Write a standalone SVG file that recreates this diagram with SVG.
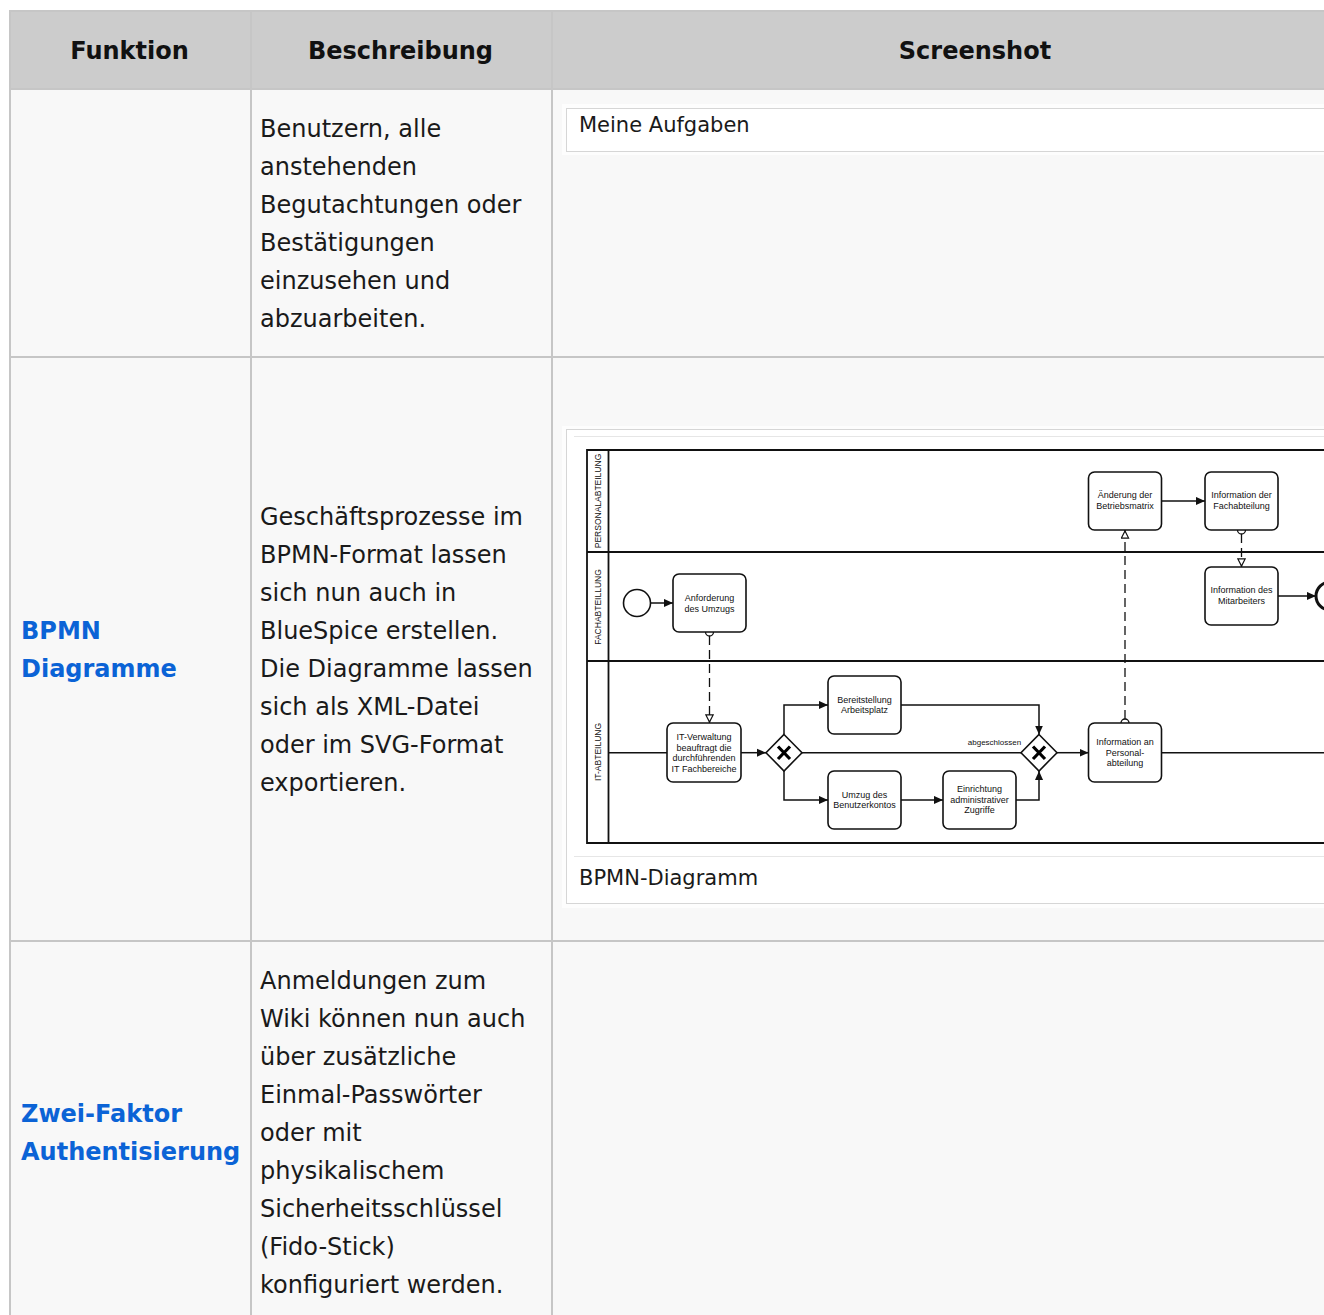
<svg xmlns="http://www.w3.org/2000/svg" width="1324" height="1315" viewBox="0 0 1324 1315">
<style>
.cell{fill:#f8f8f8}
.grid{stroke:#c6c6c6;stroke-width:2;fill:none}
.th{font-family:"DejaVu Sans",sans-serif;font-weight:bold;font-size:24px;fill:#111;text-anchor:middle}
.td{font-family:"DejaVu Sans",sans-serif;font-size:24px;fill:#1a1a1a}
.lnk{font-family:"DejaVu Sans",sans-serif;font-weight:bold;font-size:24px;fill:#0b63d6}
.cap{font-family:"DejaVu Sans",sans-serif;font-size:21px;fill:#1a1a1a}
.pool{stroke:#111;stroke-width:1.8;fill:none}
.lane{font-family:"Liberation Sans",Arial,sans-serif;font-size:8.5px;fill:#111;text-anchor:middle}
.task rect{fill:#fff;stroke:#111;stroke-width:1.6}
.task text,.lbl{font-family:"Liberation Sans",Arial,sans-serif;font-size:9px;fill:#111;text-anchor:middle}
.seq{stroke:#111;stroke-width:1.5;fill:none}
.msg{stroke:#111;stroke-width:1.3;fill:none;stroke-dasharray:9 5}
.gw polygon{fill:#fff;stroke:#111;stroke-width:1.6}
.gw path{stroke:#000;stroke-width:3.2;fill:none}
</style>
<defs>
<marker id="arr" viewBox="0 0 10 10" refX="10" refY="5" markerWidth="9" markerHeight="9" markerUnits="userSpaceOnUse" orient="auto">
<path d="M0,0.5 L10,5 L0,9.5 z" fill="#111"/>
</marker>
<marker id="tri" viewBox="0 0 10 10" refX="10" refY="5" markerWidth="9" markerHeight="9" markerUnits="userSpaceOnUse" orient="auto">
<path d="M1,1 L9,5 L1,9 z" fill="#fff" stroke="#111" stroke-width="1.3"/>
</marker>
</defs>
<rect width="1324" height="1315" fill="#fff"/>
<g id="table">
<rect x="9" y="11" width="1320" height="78" fill="#cccccc"/>
<rect class="cell" x="9" y="89" width="1320" height="1230"/>
<path class="grid" d="M9,11 H1324 M9,89 H1324 M9,357 H1324 M9,941 H1324 M10,11 V1315 M251,11 V1315 M552,11 V1315"/>
<text class="th" x="129.5" y="59">Funktion</text>
<text class="th" x="400.5" y="59">Beschreibung</text>
<text class="th" x="975" y="59">Screenshot</text>
<text class="td"><tspan x="260" y="137">Benutzern, alle</tspan><tspan x="260" y="175">anstehenden</tspan><tspan x="260" y="213">Begutachtungen oder</tspan><tspan x="260" y="251">Bestätigungen</tspan><tspan x="260" y="289">einzusehen und</tspan><tspan x="260" y="327">abzuarbeiten.</tspan></text>
<text class="lnk"><tspan x="21" y="639">BPMN</tspan><tspan x="21" y="677">Diagramme</tspan></text>
<text class="td"><tspan x="260" y="525">Geschäftsprozesse im</tspan><tspan x="260" y="563">BPMN-Format lassen</tspan><tspan x="260" y="601">sich nun auch in</tspan><tspan x="260" y="639">BlueSpice erstellen.</tspan><tspan x="260" y="677">Die Diagramme lassen</tspan><tspan x="260" y="715">sich als XML-Datei</tspan><tspan x="260" y="753">oder im SVG-Format</tspan><tspan x="260" y="791">exportieren.</tspan></text>
<text class="lnk"><tspan x="21" y="1122">Zwei-Faktor</tspan><tspan x="21" y="1160">Authentisierung</tspan></text>
<text class="td"><tspan x="260" y="989">Anmeldungen zum</tspan><tspan x="260" y="1027">Wiki können nun auch</tspan><tspan x="260" y="1065">über zusätzliche</tspan><tspan x="260" y="1103">Einmal-Passwörter</tspan><tspan x="260" y="1141">oder mit</tspan><tspan x="260" y="1179">physikalischem</tspan><tspan x="260" y="1217">Sicherheitsschlüssel</tspan><tspan x="260" y="1255">(Fido-Stick)</tspan><tspan x="260" y="1293">konfiguriert werden.</tspan></text>
</g>
<g id="thumb-aufgaben">
<rect x="562" y="104" width="770" height="51" fill="#fdfdfd"/>
<rect x="566.5" y="108.5" width="770" height="43" fill="#fff" stroke="#d6d6d6" stroke-width="1"/>
<text class="cap" x="579" y="132">Meine Aufgaben</text>
</g>
<g id="thumb-bpmn">
<rect x="562" y="426" width="770" height="482" fill="#fdfdfd"/>
<rect x="566.5" y="429.5" width="770" height="474" fill="#fff" stroke="#d6d6d6" stroke-width="1"/>
<path d="M574,436.5 H1330 M574,856.5 H1330" stroke="#e6e6e6" stroke-width="1"/>
<text class="cap" x="579" y="885">BPMN-Diagramm</text>
</g>
<g id="pool">
<path class="pool" d="M1330,450 H587 V843 H1330 M608.5,450 V843 M587,552 H1330 M587,661 H1330"/>
<text class="lane" transform="translate(601,501) rotate(-90)">PERSONALABTEILUNG</text>
<text class="lane" transform="translate(601,607) rotate(-90)">FACHABTEILLUNG</text>
<text class="lane" transform="translate(601,752) rotate(-90)">IT-ABTEILUNG</text>
</g>
<g id="connectors">
<path class="seq" d="M651,603 H673" marker-end="url(#arr)"/>
<path class="seq" d="M1162,501 H1205" marker-end="url(#arr)"/>
<path class="seq" d="M1278,596 H1316" marker-end="url(#arr)"/>
<path class="seq" d="M608.5,752.7 H667"/>
<path class="seq" d="M741,752.7 H766" marker-end="url(#arr)"/>
<path class="seq" d="M784,734.5 V705 H828" marker-end="url(#arr)"/>
<path class="seq" d="M784,771 V800 H828" marker-end="url(#arr)"/>
<path class="seq" d="M901,800 H943" marker-end="url(#arr)"/>
<path class="seq" d="M901,705 H1039 V734.5" marker-end="url(#arr)"/>
<path class="seq" d="M1016,800 H1039 V771" marker-end="url(#arr)"/>
<path class="seq" d="M802,752.7 H1021"/>
<text class="lbl" x="994.5" y="744.5" style="font-size:8px">abgeschlossen</text>
<path class="seq" d="M1057,752.7 H1088.5" marker-end="url(#arr)"/>
<path class="seq" d="M1161.5,752.7 H1330"/>
<path class="msg" d="M709.5,636 V723" marker-end="url(#tri)"/>
<circle cx="709.5" cy="632" r="4" fill="#fff" stroke="#111" stroke-width="1.3"/>
<path class="msg" d="M1241.5,534 V567" marker-end="url(#tri)"/>
<circle cx="1241.5" cy="530" r="4" fill="#fff" stroke="#111" stroke-width="1.3"/>
<path class="msg" d="M1125,719 V530" marker-end="url(#tri)"/>
<circle cx="1125" cy="723" r="4" fill="#fff" stroke="#111" stroke-width="1.3"/>
</g>
<g id="start"><circle cx="637" cy="603" r="13.5" fill="#fff" stroke="#111" stroke-width="1.6"/></g>
<g id="end"><circle cx="1330" cy="596" r="14" fill="#fff" stroke="#111" stroke-width="3"/></g>
<g id="t-anforderung" class="task"><rect x="673" y="574" width="73" height="58" rx="6"/><text x="709.5" y="600.5">Anforderung</text><text x="709.5" y="611.5">des Umzugs</text></g>
<g id="t-aenderung" class="task"><rect x="1088.5" y="472" width="73" height="58" rx="6"/><text x="1125" y="498">Änderung der</text><text x="1125" y="509">Betriebsmatrix</text></g>
<g id="t-info-fach" class="task"><rect x="1205" y="472" width="73" height="58" rx="6"/><text x="1241.5" y="498">Information der</text><text x="1241.5" y="509">Fachabteilung</text></g>
<g id="t-info-mitarbeiter" class="task"><rect x="1205" y="567" width="73" height="58" rx="6"/><text x="1241.5" y="593">Information des</text><text x="1241.5" y="604">Mitarbeiters</text></g>
<g id="t-it-verwaltung" class="task"><rect x="667" y="723" width="74" height="59" rx="6"/><text x="704" y="740">IT-Verwaltung</text><text x="704" y="750.5">beauftragt die</text><text x="704" y="761">durchführenden</text><text x="704" y="771.5">IT Fachbereiche</text></g>
<g id="t-bereitstellung" class="task"><rect x="828" y="676" width="73" height="58" rx="6"/><text x="864.5" y="702.5">Bereitstellung</text><text x="864.5" y="713">Arbeitsplatz</text></g>
<g id="t-umzug" class="task"><rect x="828" y="771" width="73" height="58" rx="6"/><text x="864.5" y="797.5">Umzug des</text><text x="864.5" y="808">Benutzerkontos</text></g>
<g id="t-einrichtung" class="task"><rect x="943" y="771" width="73" height="58" rx="6"/><text x="979.5" y="791.5">Einrichtung</text><text x="979.5" y="802.5">administrativer</text><text x="979.5" y="813">Zugriffe</text></g>
<g id="t-info-personal" class="task"><rect x="1088.5" y="723" width="73" height="59" rx="6"/><text x="1125" y="745">Information an</text><text x="1125" y="755.5">Personal-</text><text x="1125" y="766">abteilung</text></g>
<g id="gw1" class="gw"><polygon points="784,734.5 802,752.7 784,771 766,752.7"/><path d="M778,746.5 L790,759 M790,746.5 L778,759"/></g>
<g id="gw2" class="gw"><polygon points="1039,734.5 1057,752.7 1039,771 1021,752.7"/><path d="M1033,746.5 L1045,759 M1045,746.5 L1033,759"/></g>
</svg>
